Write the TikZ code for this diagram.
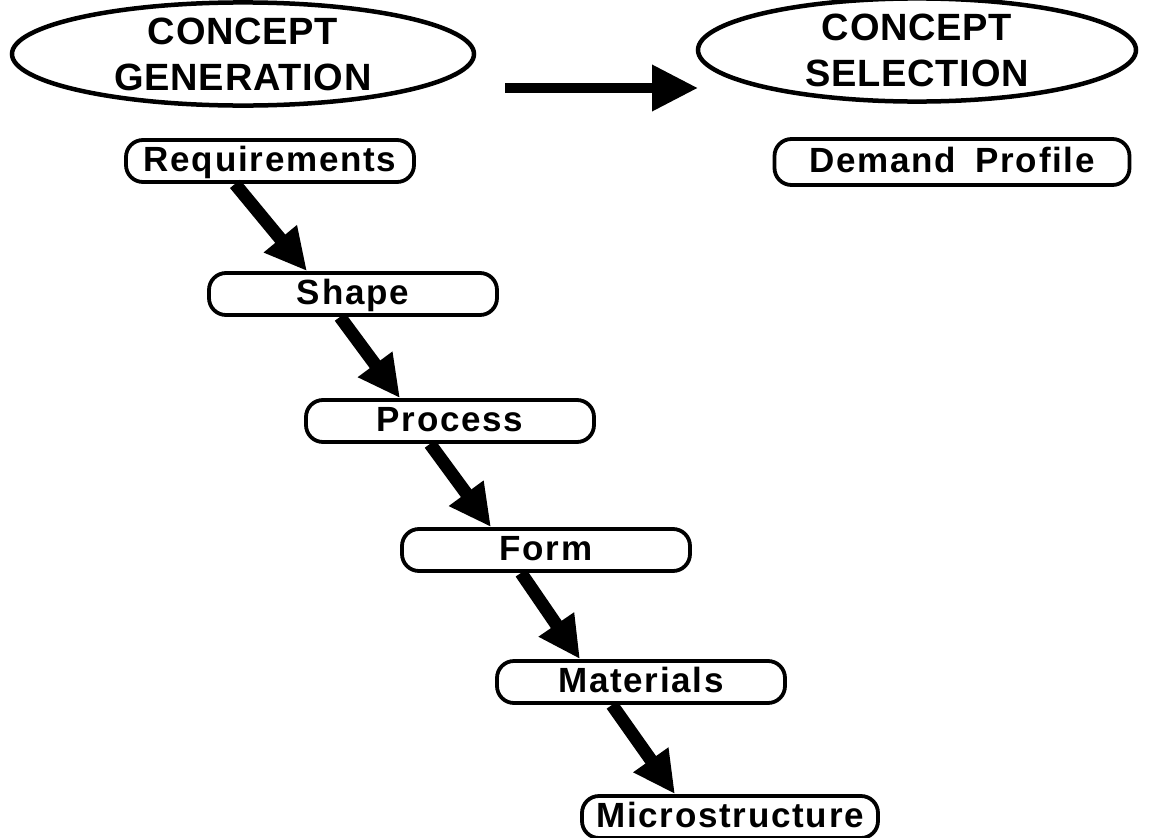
\documentclass[tikz,border=0pt]{standalone}
\usepackage{fontspec}
\setmainfont{Liberation Sans}
\newfontfamily\stagefont{Liberation Sans}[LetterSpace=5]
\newfontfamily\conceptfont{Liberation Sans}[LetterSpace=2]
\usetikzlibrary{shapes.geometric,arrows.meta}

\tikzset{
  concept/.style={ellipse, draw, line width=4.5pt, minimum width=462pt, minimum height=100pt,
    inner sep=0pt, align=center, font=\conceptfont\bfseries\fontsize{38}{46}\selectfont},
  stage/.style={draw, line width=3.8pt, rounded corners=17pt, minimum width=288pt, minimum height=42pt,
    inner sep=0pt, text height=25pt, text depth=5pt, font=\stagefont\bfseries\fontsize{35}{40}\selectfont},
  flow/.style={line width=13pt, -{Triangle[length=42pt, width=40pt]}},
  link/.style={line width=10pt, -{Triangle[length=46pt, width=44pt]}}
}

\begin{document}
\begin{tikzpicture}[x=1pt, y=-1pt]
  \useasboundingbox (0,0) rectangle (1173,838);
  % the two concept stages
  \node[concept] (gen) at (243,54) {CONCEPT\\GENERATION};
  \node[concept, minimum width=438pt, minimum height=96pt] (sel) at (917,50) {CONCEPT\\SELECTION};
  \coordinate (linkstart) at (505,88);
  \coordinate (linkend) at (698,88);
  \draw[link] (linkstart) -- (linkend);

  % design steps
  \node[stage] (req) at (270,161) {Requirements};
  \node[stage, minimum width=355pt, minimum height=46pt] (dem) at (952,162) {Demand\ \hspace{8pt}Profile};
  \node[stage] (shape) at (353,294) {Shape};
  \node[stage] (proc) at (450,421) {Process};
  \node[stage] (form) at (546,550) {Form};
  \node[stage] (mat) at (641,682) {Materials};
  \node[stage, minimum width=296pt] (micro) at (730,817) {Microstructure};

  % flow between the steps
  \draw[flow] ([xshift=-35pt]req.south) -- ([xshift=-46pt]shape.north);
  \draw[flow] ([xshift=-13pt]shape.south) -- ([xshift=-50pt]proc.north);
  \draw[flow] ([xshift=-20pt]proc.south) -- ([xshift=-55pt]form.north);
  \draw[flow] ([xshift=-25pt]form.south) -- ([xshift=-61pt]mat.north);
  \draw[flow] ([xshift=-29pt]mat.south) -- ([xshift=-55pt]micro.north);
\end{tikzpicture}
\end{document}
